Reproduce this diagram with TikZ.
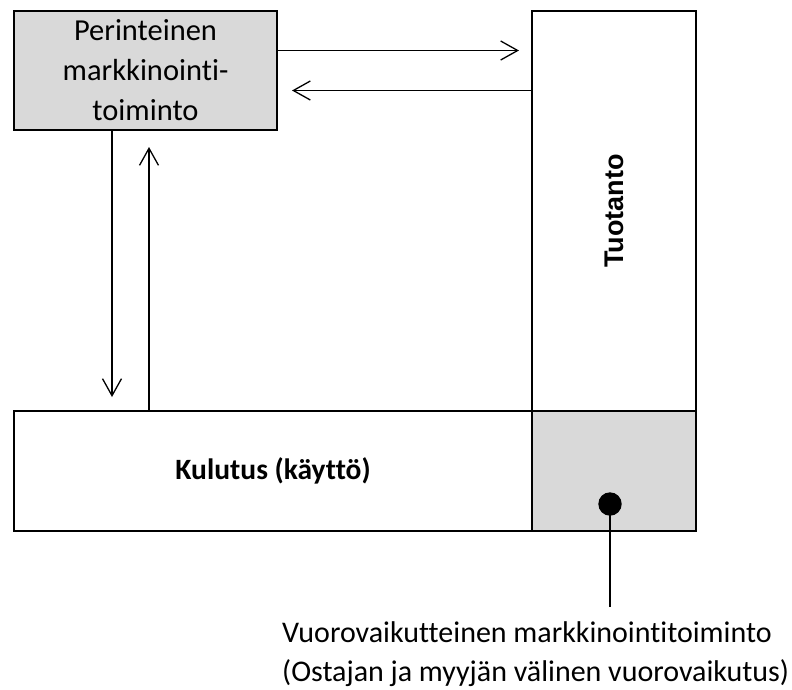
\documentclass[tikz,border=0pt]{standalone}
\usepackage{fontspec}
\setmainfont{Carlito}[Ligatures=NoCommon]
\newfontfamily\arialfont{Liberation Sans}
\usetikzlibrary{arrows.meta}
\definecolor{harmaa}{RGB}{217,217,217}

\begin{document}
\begin{tikzpicture}[x=1pt, y=-1pt,
  laatikko/.style={draw, line width=2pt, inner sep=0pt},
  nuoli/.style={line width=1.3pt, -{Straight Barb[length=17pt, width=19pt]}}]
  \useasboundingbox (0,0) rectangle (792,689);
  % boxes
  \node[laatikko, fill=harmaa, minimum width=263pt, minimum height=119pt, align=center,
    font=\fontsize{30.5}{40}\selectfont] (perinteinen) at (145.5,70.5) {Perinteinen\\markkinointi-\\toiminto};
  \node[laatikko, minimum width=164pt, minimum height=400pt] (tuotanto) at (614,211) {};
  \node[rotate=90, font=\arialfont\bfseries\fontsize{27}{32}\selectfont] (tuotantoteksti) at (tuotanto.center) {Tuotanto};
  \node[laatikko, minimum width=518pt, minimum height=120pt,
    font=\bfseries\fontsize{29.5}{34}\selectfont] (kulutus) at (273,471) {Kulutus (käyttö)};
  \node[laatikko, fill=harmaa, minimum width=164pt, minimum height=120pt] (vuoro) at (614,471) {};
  % arrows
  \coordinate (p1) at ([yshift=20pt]perinteinen.east);
  \coordinate (p2) at ([yshift=-20pt]perinteinen.east);
  \coordinate (p3) at ([xshift=-33.5pt]perinteinen.south);
  \coordinate (p4) at ([xshift=3.5pt]perinteinen.south);
  \draw[nuoli, shorten >=12pt] (p1) -- (p1 -| tuotanto.west);
  \draw[nuoli, shorten >=14pt] (p2 -| tuotanto.west) -- (p2);
  \draw[nuoli, shorten >=13pt] (p3) -- (p3 |- kulutus.north);
  \draw[nuoli, shorten >=16pt] (p4 |- kulutus.north) -- (p4);
  % interaction point
  \node[circle, fill, inner sep=0pt, minimum size=23.4pt] (piste) at (610,504) {};
  \coordinate (loppu) at (610,607);
  \draw[line width=1.5pt] (piste.center) -- (loppu);
  \node[anchor=base west, align=left, inner sep=0pt,
    font=\fontsize{30}{39}\selectfont] (selite) at (282,681)
    {Vuorovaikutteinen markkinointitoiminto\\(Ostajan ja myyjän välinen vuorovaikutus)};
\end{tikzpicture}
\end{document}
